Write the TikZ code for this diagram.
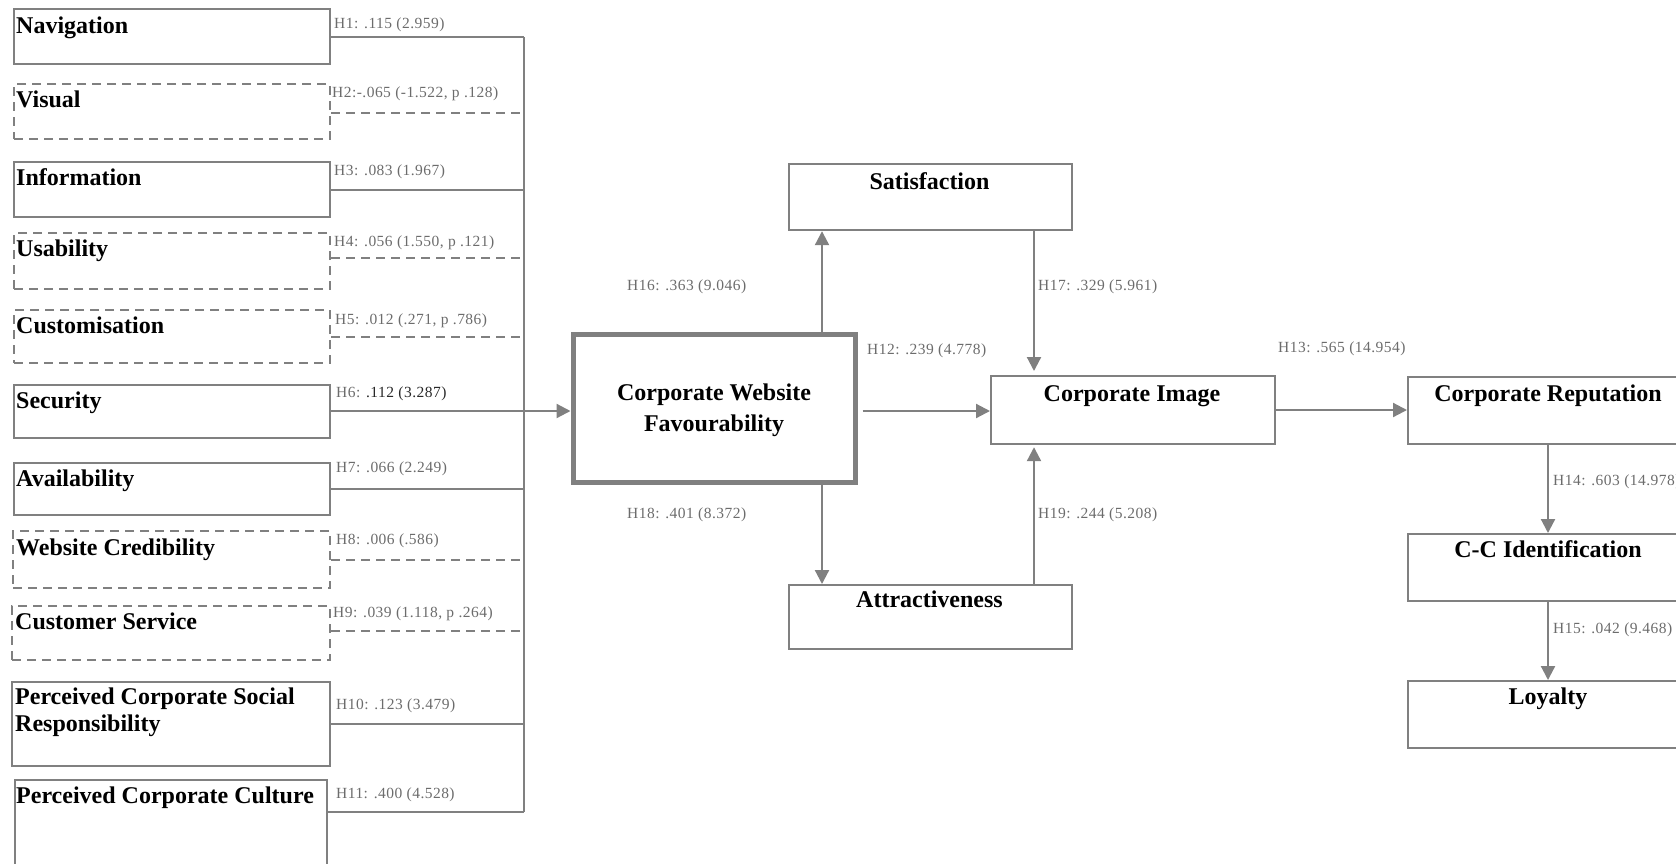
\documentclass[tikz,border=0pt]{standalone}
\usepackage{fontspec}
\setmainfont{Liberation Serif}
\newfontfamily\labfont[LetterSpace=3]{Liberation Serif}
\newfontfamily\ttlfont{Liberation Serif}
\usetikzlibrary{arrows.meta}
\definecolor{ln}{RGB}{128,128,128}
\definecolor{lbl}{RGB}{108,108,108}
\definecolor{dk}{RGB}{40,40,40}
\begin{document}
\begin{tikzpicture}[x=1pt,y=-1pt,
  box/.style={draw=ln, line width=2.2pt, fill=white, inner sep=0pt, anchor=north west},
  dbox/.style={box, dash pattern=on 9pt off 6pt},
  bigbox/.style={draw=ln, line width=5pt, fill=white, inner sep=0pt},
  ttl/.style={font=\ttlfont\fontsize{24}{27}\selectfont\bfseries, inner sep=0pt, text=black},
  lab/.style={font=\labfont\fontsize{15.5}{17}\selectfont, text=lbl, inner sep=0pt, anchor=base west},
  conn/.style={draw=ln, line width=2.2pt},
  dconn/.style={conn, dash pattern=on 9pt off 6pt},
  arr/.style={conn, -{Triangle[length=14pt,width=14pt]}}]
\useasboundingbox (0,0) rectangle (1676,863);
\clip (0,0) rectangle (1676,863);
\coordinate (bus) at (524,0);
\coordinate (xs) at (822,0);
\coordinate (xr) at (1034,0);
\coordinate (xc) at (1548,0);

% left boxes
\node[box,  minimum width=316pt, minimum height=55pt] (nav) at (13,8) {};
\node[dbox, minimum width=316pt, minimum height=55pt] (vis) at (13,83) {};
\node[box,  minimum width=316pt, minimum height=55pt] (inf) at (13,161) {};
\node[dbox, minimum width=316pt, minimum height=56pt] (usa) at (13,232) {};
\node[dbox, minimum width=316pt, minimum height=53pt] (cus) at (13,309) {};
\node[box,  minimum width=316pt, minimum height=53pt] (sec) at (13,384) {};
\node[box,  minimum width=316pt, minimum height=52pt] (ava) at (13,462) {};
\node[dbox, minimum width=317pt, minimum height=57pt] (wcr) at (12,530) {};
\node[dbox, minimum width=318pt, minimum height=54pt] (csv) at (11,605) {};
\node[box,  minimum width=318pt, minimum height=84pt] (csr) at (11,681) {};
\node[box,  minimum width=312pt, minimum height=110pt] (pcc) at (14,779) {};

\node[ttl, anchor=base west] (navT) at (16,33) {Navigation};
\node[ttl, anchor=base west] (visT) at (16,107) {Visual};
\node[ttl, anchor=base west] (infT) at (16,185) {Information};
\node[ttl, anchor=base west] (usaT) at (16,256) {Usability};
\node[ttl, anchor=base west] (cusT) at (16,333) {Customisation};
\node[ttl, anchor=base west] (secT) at (16,408) {Security};
\node[ttl, anchor=base west] (avaT) at (16,486) {Availability};
\node[ttl, anchor=base west] (wcrT) at (16,555) {Website Credibility};
\node[ttl, anchor=base west] (csvT) at (15,629) {Customer Service};
\node[ttl, anchor=north west, align=left] (csrT) at (15,688) {Perceived Corporate Social\\Responsibility};
\node[ttl, anchor=base west] (pccT) at (16,803) {Perceived Corporate Culture};

% bus
\draw[conn] (524,37) coordinate (bt) -- (524,812) coordinate (bb);
\draw[conn]  (nav.east |- bt) -- (bt);
\draw[dconn] (vis.east |- 0,113) -- (bus |- 0,113);
\draw[conn]  (inf.east |- 0,190) -- (bus |- 0,190);
\draw[dconn] (usa.east |- 0,258) -- (bus |- 0,258);
\draw[dconn] (cus.east |- 0,337) -- (bus |- 0,337);
\draw[conn]  (ava.east |- 0,489) -- (bus |- 0,489);
\draw[dconn] (wcr.east |- 0,560) -- (bus |- 0,560);
\draw[dconn] (csv.east |- 0,631) -- (bus |- 0,631);
\draw[conn]  (csr.east) -- (bus |- csr.east);
\draw[conn]  (pcc.east |- bb) -- (bb);

% labels left
\node[lab] (h1) at (334,28) {H1: .115 (2.959)};
\node[lab] (h2) at (332,97) {H2:-.065 (-1.522, p .128)};
\node[lab] (h3) at (334,175) {H3: .083 (1.967)};
\node[lab] (h4) at (334,246) {H4: .056 (1.550, p .121)};
\node[lab] (h5) at (335,324) {H5: .012 (.271, p .786)};
\node[lab] (h6) at (336,397) {H6: \textcolor{dk}{.112 (3.287)}};
\node[lab] (h7) at (336,472) {H7: .066 (2.249)};
\node[lab] (h8) at (336,544) {H8: .006 (.586)};
\node[lab] (h9) at (333,617) {H9: .039 (1.118, p .264)};
\node[lab] (h10) at (336,709) {H10: .123 (3.479)};
\node[lab] (h11) at (336,798) {H11: .400 (4.528)};

% central boxes
\node[bigbox, minimum width=282pt, minimum height=148pt] (cwf) at (714,408) {};
\node[ttl, align=center] (cwfT) at (714,410) {Corporate Website\\[4pt]Favourability};
\node[box, minimum width=283pt, minimum height=66pt] (sat) at (788,163) {};
\node[ttl, anchor=base] (satT) at (929.5,189) {Satisfaction};
\node[box, minimum width=283pt, minimum height=64pt] (att) at (788,584) {};
\node[ttl, anchor=base] (attT) at (929.5,607) {Attractiveness};
\node[box, minimum width=284pt, minimum height=68pt] (ci) at (990,375) {};
\node[ttl, anchor=base] (ciT) at (1132,401) {Corporate Image};

% right boxes
\node[box, minimum width=282pt, minimum height=67pt] (cr) at (1407,376) {};
\node[ttl, anchor=base] (crT) at (1548,401) {Corporate Reputation};
\node[box, minimum width=282pt, minimum height=67pt] (cci) at (1407,533) {};
\node[ttl, anchor=base] (cciT) at (1548,557) {C-C Identification};
\node[box, minimum width=282pt, minimum height=67pt] (loy) at (1407,680) {};
\node[ttl, anchor=base] (loyT) at (1548,704) {Loyalty};

% arrows
\draw[arr] (sec.east |- 0,411) -- (cwf.west |- 0,411);
\draw[arr] (cwf.north -| xs) -- (sat.south -| xs);
\draw[arr] (cwf.south -| xs) -- (att.north -| xs);
\draw[arr, shorten >=4pt] (sat.south -| xr) -- (ci.north -| xr);
\draw[arr, shorten >=2pt] (att.north -| xr) -- (ci.south -| xr);
\draw[arr, shorten <=5pt] (cwf.east |- 0,411) -- (ci.west |- 0,411);
\draw[arr] (ci.east |- 0,410) -- (cr.west |- 0,410);
\draw[arr] (cr.south -| xc) -- (cci.north -| xc);
\draw[arr] (cci.south -| xc) -- (loy.north -| xc);

% labels center/right
\node[lab] (h16) at (627,290) {H16: .363 (9.046)};
\node[lab] (h17) at (1038,290) {H17: .329 (5.961)};
\node[lab] (h12) at (867,354) {H12: .239 (4.778)};
\node[lab] (h18) at (627,518) {H18: .401 (8.372)};
\node[lab] (h19) at (1038,518) {H19: .244 (5.208)};
\node[lab] (h13) at (1278,352) {H13: .565 (14.954)};
\node[lab] (h14) at (1553,485) {H14: .603 (14.978)};
\node[lab] (h15) at (1553,633) {H15: .042 (9.468)};
\end{tikzpicture}
\end{document}
